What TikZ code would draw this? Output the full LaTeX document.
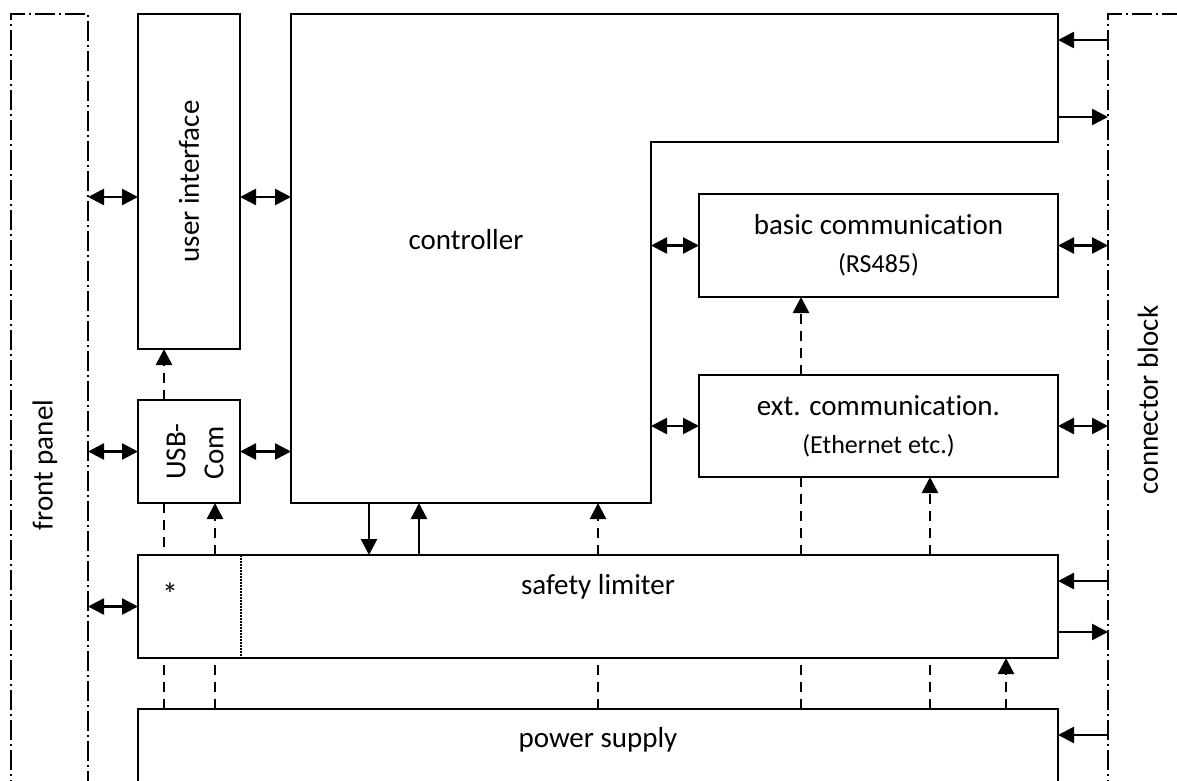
\documentclass[tikz,border=0pt]{standalone}
\usepackage{fontspec}
\setmainfont{Carlito}[Ligatures=NoCommon]
\usetikzlibrary{arrows.meta}
\begin{document}
\begin{tikzpicture}[x=1pt,y=-1pt,
  box/.style={draw, line width=1.8pt, inner sep=0pt, outer sep=0pt},
  lbl/.style={font=\fontsize{29}{38}\selectfont, inner sep=0pt, align=center},
  ar/.style={line width=2.6pt, -{Triangle[length=16pt,width=16pt]}},
  dar/.style={line width=2.6pt, {Triangle[length=16pt,width=16pt]}-{Triangle[length=16pt,width=16pt]}},
  dashar/.style={ar, dash pattern=on 10pt off 7pt},
  dashln/.style={line width=2.6pt, dash pattern=on 10pt off 7pt},
  frame/.style={line width=1.9pt, dash pattern=on 20pt off 4pt on 2pt off 4pt}]
\useasboundingbox (0,0) rectangle (1177,780);
\clip (0,0) rectangle (1177,780);

% frames
\draw[frame] (11,800) -- (11,14) -- (88,14) -- (88,800);
\draw[frame] (1108,800) -- (1108,14) -- (1200,14);
\coordinate (fpR) at (88,0);
\coordinate (cbL) at (1108,0);
\node[lbl, rotate=90] (fp) at (45,465) {front panel};
\node[lbl, rotate=90] (cb) at (1148,400) {connector block};

% boxes
\node[box, minimum width=102pt, minimum height=335pt] (ui) at (189,181.5) {};
\node[lbl, rotate=90] (uit) at (ui.center) {user interface};
\node[box, minimum width=102pt, minimum height=103pt] (usb) at (189,451.5) {};
\node[lbl, rotate=90, align=left] (usbt) at ([xshift=6pt]usb.center) {USB-\\Com};

\draw[box] (291,14) -- (1058,14) -- (1058,142) -- (651,142) -- (651,503) -- (291,503) -- cycle;
\node[lbl] (ctl) at (466,240) {controller};
\coordinate (ctlL) at (291,0);
\coordinate (ctlB) at (0,503);
\coordinate (ctlIn) at (651,0);
\coordinate (ctlR) at (1058,0);

\node[box, minimum width=359pt, minimum height=103pt] (bc) at (878.5,245.5) {};
\node[lbl] (bct) at (bc.center) {basic communication\\{\fontsize{26}{30}\selectfont (RS485)}};
\node[box, minimum width=359pt, minimum height=102pt] (ec) at (878.5,426) {};
\node[lbl] (ect) at (ec.center) {ext. communication.\\{\fontsize{26}{30}\selectfont (Ethernet etc.)}};

\node[box, minimum width=920pt, minimum height=103pt] (sl) at (598,606.5) {};
\node[lbl] (slt) at (598,587) {safety limiter};
\node[lbl] (star) at (170,594) {\fontsize{32}{38}\selectfont *};
\draw[line width=1.3pt, dash pattern=on 1.5pt off 1.5pt] (sl.north -| 241,0) -- (sl.south -| 241,0);

\node[box, minimum width=920pt, minimum height=91pt] (ps) at (598,754.5) {};
\node[lbl] (pst) at (598,740) {power supply};

% connectors left
\draw[dar] (fpR |- 0,197) -- (ui.west |- 0,197);
\draw[dar] (ui.east |- 0,197) -- (ctlL |- 0,197);
\draw[dar] (fpR |- usb.west) -- (usb.west);
\draw[dar] (usb.east) -- (ctlL |- usb.east);
\draw[dar] (fpR |- sl.west) -- (sl.west);
\draw[dashar] (usb.north -| 164,0) -- (ui.south -| 164,0);
\draw[dashln] (usb.south -| 164,0) -- (sl.north -| 164,0);
\draw[dashar] (sl.north -| 215,0) -- (usb.south -| 215,0);

% controller - safety
\draw[ar] (ctlB -| 369,0) -- (sl.north -| 369,0);
\draw[ar] (sl.north -| 419,0) -- (ctlB -| 419,0);
\draw[dashar] (sl.north -| 598,0) -- (ctlB -| 598,0);

% communication
\draw[dar] (ctlIn |- bc.west) -- (bc.west);
\draw[dar] (ctlIn |- ec.west) -- (ec.west);
\draw[dar] (bc.east) -- (cbL |- bc.east);
\draw[dar] (ec.east) -- (cbL |- ec.east);
\draw[dashar] (ec.north -| 801,0) -- (bc.south -| 801,0);
\draw[dashln] (sl.north -| 801,0) -- (ec.south -| 801,0);
\draw[dashar] (sl.north -| 930,0) -- (ec.south -| 930,0);

% connector block arrows
\draw[ar] (cbL |- 0,40) -- (ctlR |- 0,40);
\draw[ar] (ctlR |- 0,117) -- (cbL |- 0,117);
\draw[ar] (cbL |- 0,581) -- (sl.east |- 0,581);
\draw[ar] (sl.east |- 0,632) -- (cbL |- 0,632);
\draw[ar] (cbL |- 0,735) -- (ps.east |- 0,735);

% power supply - safety
\draw[dashln] (ps.north -| 164,0) -- (sl.south -| 164,0);
\draw[dashln] (ps.north -| 215,0) -- (sl.south -| 215,0);
\draw[dashln] (ps.north -| 598,0) -- (sl.south -| 598,0);
\draw[dashln] (ps.north -| 801,0) -- (sl.south -| 801,0);
\draw[dashln] (ps.north -| 930,0) -- (sl.south -| 930,0);
\draw[dashar] (ps.north -| 1006,0) -- (sl.south -| 1006,0);
\end{tikzpicture}
\end{document}
